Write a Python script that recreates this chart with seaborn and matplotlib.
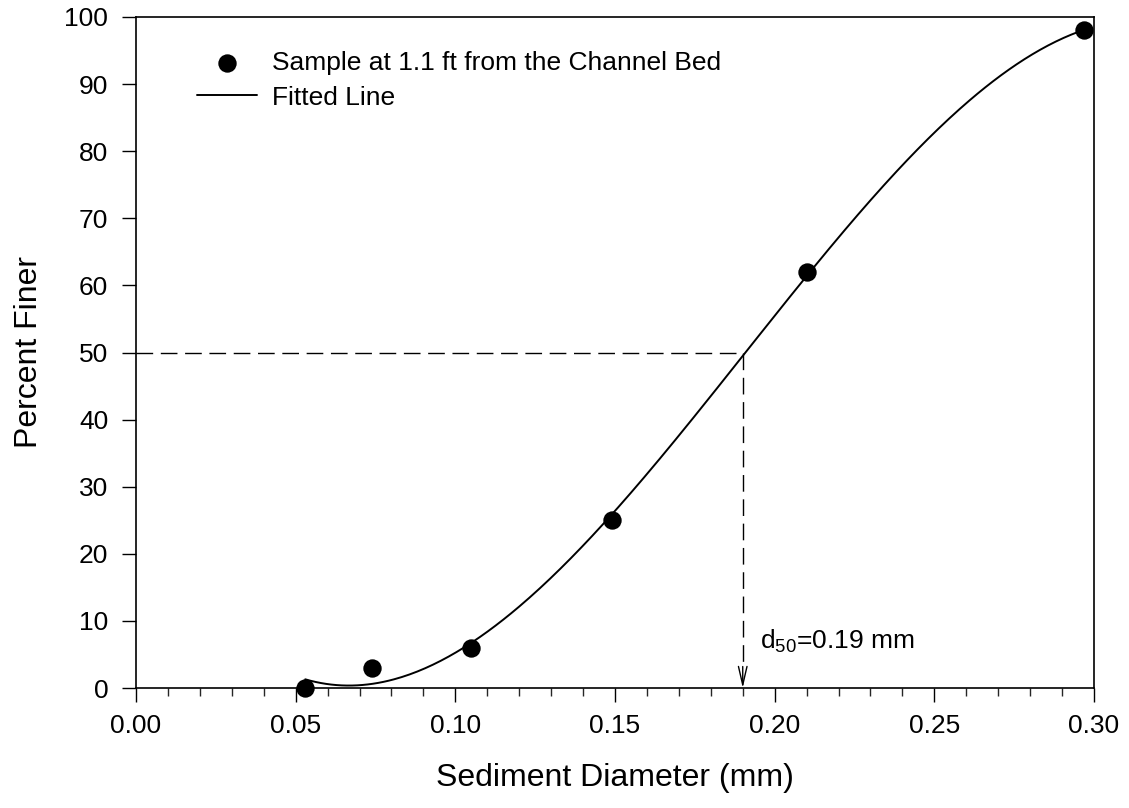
import numpy as np
import matplotlib
matplotlib.use("Agg")
import matplotlib.pyplot as plt
import seaborn as sns
from matplotlib.ticker import MultipleLocator

# Sieve analysis data
diameter_mm = [0.053, 0.074, 0.105, 0.149, 0.210, 0.297]
percent_finer = [0.0, 3.0, 6.0, 25.0, 62.0, 98.0]
d50 = 0.19

x_ticks = [0.00, 0.05, 0.10, 0.15, 0.20, 0.25, 0.30]
y_ticks = [0, 10, 20, 30, 40, 50, 60, 70, 80, 90, 100]

sns.set_style("ticks")
plt.rcParams["font.family"] = ["Liberation Sans", "DejaVu Sans"]
plt.rcParams["text.color"] = "black"
plt.rcParams["axes.labelcolor"] = "black"
plt.rcParams["mathtext.fontset"] = "custom"
plt.rcParams["mathtext.rm"] = "Liberation Sans"
plt.rcParams["mathtext.it"] = "Liberation Sans:italic"

fig = plt.figure(figsize=(11.29, 8.08), dpi=100)
ax = fig.add_axes([136 / 1129, 1 - 688 / 808, (1094 - 136) / 1129, (688 - 17) / 808])

# Cubic fit through the samples
coef = np.polyfit(diameter_mm, percent_finer, 3)
xf = np.linspace(min(diameter_mm), max(diameter_mm), 300)
yf = np.polyval(coef, xf)

sns.lineplot(x=xf, y=yf, ax=ax, color="black", linewidth=1.4, label="Fitted Line", zorder=3)
sns.scatterplot(x=diameter_mm, y=percent_finer, ax=ax, color="black", s=175,
                edgecolor="black", linewidth=0, label="Sample at 1.1 ft from the Channel Bed",
                zorder=4, clip_on=False)

# d50 guide lines
dash = (12, 5.5)
ax.plot([0, d50], [50, 50], color="black", linewidth=1.0, dashes=dash)
ax.plot([d50, d50], [50, 3], color="black", linewidth=1.0, dashes=dash)
ax.annotate("", xy=(d50, 0), xytext=(d50, 3.2),
            arrowprops=dict(arrowstyle="->, head_length=0.95, head_width=0.22", color="black",
                            lw=1.0, shrinkA=0, shrinkB=0, mutation_scale=14))
ax.text(d50 + 0.0053, 7.0, r"d$_{\mathregular{50}}$=0.19 mm", fontsize=19, va="center", ha="left")

ax.set_xlim(0, 0.30)
ax.set_ylim(0, 100)
ax.set_xticks(x_ticks)
ax.set_xticklabels([f"{v:.2f}" for v in x_ticks])
ax.set_yticks(y_ticks)
ax.xaxis.set_minor_locator(MultipleLocator(0.01))
ax.tick_params(axis="both", which="major", direction="out", length=10, width=1,
               labelsize=19, colors="black")
ax.tick_params(axis="x", which="major", pad=9)
ax.tick_params(axis="y", which="major", pad=10)
ax.tick_params(axis="x", which="minor", direction="out", length=6, width=1)
ax.tick_params(top=False, right=False)

for s in ax.spines.values():
    s.set_visible(True)
    s.set_linewidth(1.2)
    s.set_color("black")

ax.set_xlabel("Sediment Diameter (mm)", fontsize=23, labelpad=18)
ax.set_ylabel("Percent Finer", fontsize=23, labelpad=15)

handles, labels = ax.get_legend_handles_labels()
order = [labels.index("Sample at 1.1 ft from the Channel Bed"), labels.index("Fitted Line")]
ax.legend([handles[i] for i in order], [labels[i] for i in order],
          loc="upper left", bbox_to_anchor=(0.0637, 0.949), frameon=False,
          fontsize=19, handlelength=2.27, handletextpad=0.57, labelspacing=0.39,
          borderaxespad=0, borderpad=0)

fig.savefig("out.png", dpi=100)
